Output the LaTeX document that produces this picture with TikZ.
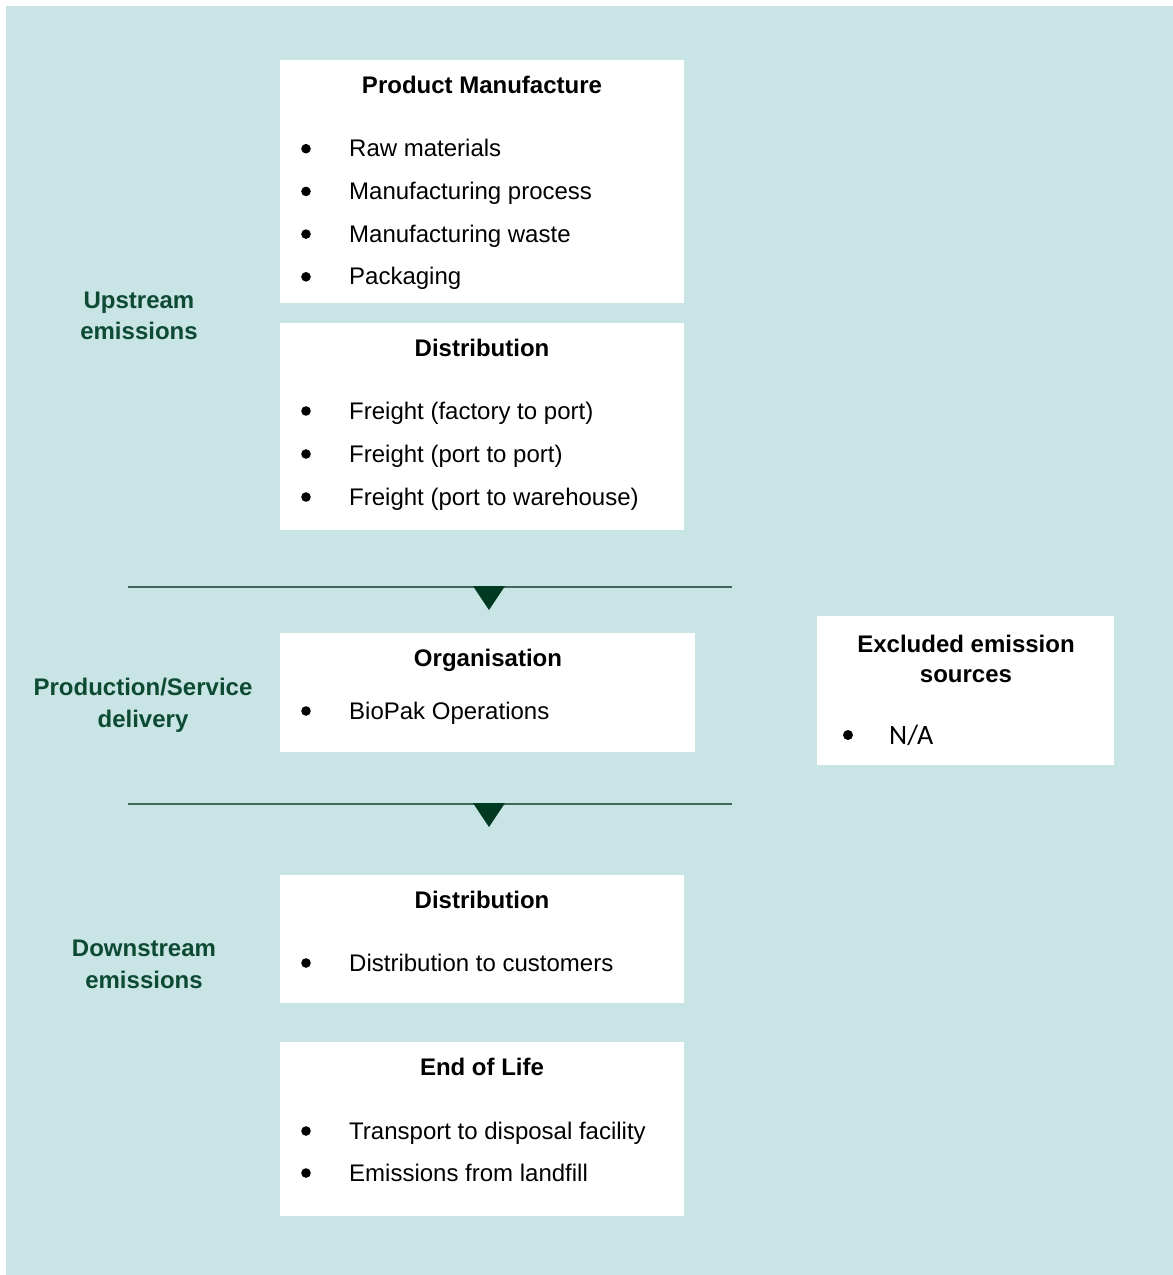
\documentclass[tikz,border=0pt]{standalone}
\usepackage{fontspec}
\setmainfont{Liberation Sans}
\newfontfamily\calfont{Carlito}
\definecolor{bgteal}{HTML}{C9E4E4}
\definecolor{labelgreen}{HTML}{0D4A33}
\definecolor{markergreen}{HTML}{003A22}
\definecolor{sepline}{HTML}{3F685A}

\begin{document}
\begin{tikzpicture}[x=1pt,y=-1pt,
    panel/.style={fill=white,anchor=north west,inner sep=0pt},
    heading/.style={anchor=base,font=\fontsize{24}{29}\selectfont\bfseries},
    item/.style={anchor=base west,inner sep=0pt,font=\fontsize{24}{29}\selectfont},
    side/.style={anchor=base,font=\fontsize{24}{29}\selectfont\bfseries,text=labelgreen},
    sep/.style={draw=sepline,line width=1.4pt},
    marker/.style={fill=markergreen}]
        \useasboundingbox (0,0) rectangle (1173,1275);
        \fill[bgteal] (6,6) rectangle (1173,1275);

        \node[panel,minimum width=404,minimum height=243] (manuf) at (280,60) {};
        \node[panel,minimum width=404,minimum height=207] (distup) at (280,323) {};
        \node[panel,minimum width=415,minimum height=119] (org) at (280,633) {};
        \node[panel,minimum width=297,minimum height=149] (excl) at (817,616) {};
        \node[panel,minimum width=404,minimum height=128] (distdown) at (280,875) {};
        \node[panel,minimum width=404,minimum height=174] (eol) at (280,1042) {};

        \node[heading] (manuf-title) at (482,93.5) {Product Manufacture};
        \foreach \t [count=\i] in {Raw materials,Manufacturing process,Manufacturing waste,Packaging} {
            \fill (306,106+42.7*\i) circle (4.8pt);
            \node[item] (manuf-\i) at (349,114+42.7*\i) {\t};
        }

        \node[heading] (distup-title) at (482,356.5) {Distribution};
        \foreach \t [count=\i] in {Freight (factory to port),Freight (port to port),Freight (port to warehouse)} {
            \fill (306,368+43*\i) circle (4.8pt);
            \node[item] (distup-\i) at (349,376.5+43*\i) {\t};
        }

        \node[heading] (org-title) at (488,666.5) {Organisation};
        \fill (306,711) circle (4.8pt);
        \node[item] (org-1) at (349,719.5) {BioPak Operations};

        \node[heading] (excl-title1) at (966,652.5) {Excluded emission};
        \node[heading] (excl-title2) at (966,682.5) {sources};
        \fill (848,735) circle (5pt);
        \node[item,font=\fontsize{28}{33}\selectfont\calfont] (excl-1) at (889,744.5) {N/A};

        \node[heading] (distdown-title) at (482,908.5) {Distribution};
        \fill (306,963) circle (4.8pt);
        \node[item] (distdown-1) at (349,971.5) {Distribution to customers};

        \node[heading] (eol-title) at (482,1075.5) {End of Life};
        \foreach \t [count=\i] in {Transport to disposal facility,Emissions from landfill} {
            \fill (306,1089+42*\i) circle (4.8pt);
            \node[item] (eol-\i) at (349,1097.5+42*\i) {\t};
        }

        \node[side] (up-1) at (139,308.5) {Upstream};
        \node[side] (up-2) at (139,339.5) {emissions};
        \node[side] (prod-1) at (143,695.5) {Production/Service};
        \node[side] (prod-2) at (143,727.5) {delivery};
        \node[side] (down-1) at (144,956.5) {Downstream};
        \node[side] (down-2) at (144,988.5) {emissions};

        \coordinate (sep1-w) at (128,587);
        \coordinate (sep1-e) at (732,587);
        \coordinate (sep2-w) at (128,804);
        \coordinate (sep2-e) at (732,804);
        \draw[sep] (sep1-w) -- (sep1-e);
        \draw[sep] (sep2-w) -- (sep2-e);
        \fill[marker] (473,586) -- (505,586) -- (489,610) -- cycle;
        \fill[marker] (473,803) -- (505,803) -- (489,827) -- cycle;
    \end{tikzpicture}
\end{document}
